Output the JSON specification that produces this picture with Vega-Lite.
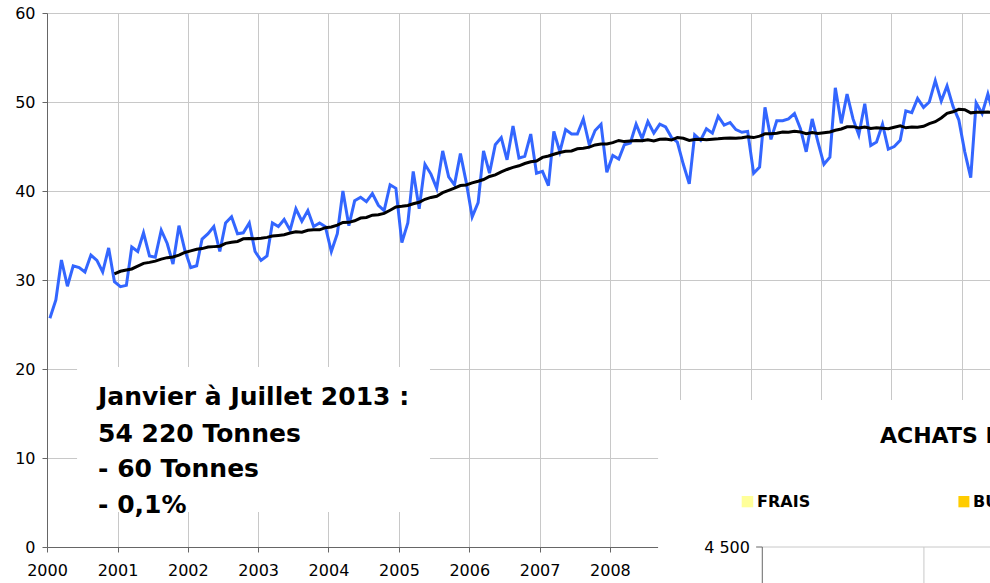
{
  "$schema": "https://vega.github.io/schema/vega-lite/v6.json",
  "width": 943,
  "height": 534,
  "autosize": {"type": "none"},
  "padding": {"left": 47, "top": 13, "right": 0, "bottom": 36},
  "background": "white",
  "config": {"view": {"stroke": null}, "font": "DejaVu Sans"},
  "datasets": {
    "series": [
      {"d":"2000-01-16","v":25.7},{"d":"2000-02-16","v":27.75},{"d":"2000-03-16","v":32.25},{"d":"2000-04-16","v":29.3},{"d":"2000-05-16","v":31.6},{"d":"2000-06-16","v":31.4},{"d":"2000-07-16","v":30.9},{"d":"2000-08-16","v":32.8},{"d":"2000-09-16","v":32.2},{"d":"2000-10-16","v":30.9},{"d":"2000-11-16","v":33.6},{"d":"2000-12-16","v":29.8,"ma":30.68},
      {"d":"2001-01-16","v":29.25,"ma":30.98},{"d":"2001-02-16","v":29.4,"ma":31.12},{"d":"2001-03-16","v":33.7,"ma":31.24},{"d":"2001-04-16","v":33.2,"ma":31.56},{"d":"2001-05-16","v":35.3,"ma":31.87},{"d":"2001-06-16","v":32.7,"ma":31.98},{"d":"2001-07-16","v":32.55,"ma":32.12},{"d":"2001-08-16","v":35.6,"ma":32.35},{"d":"2001-09-16","v":34.1,"ma":32.51},{"d":"2001-10-16","v":31.8,"ma":32.58},{"d":"2001-11-16","v":36.1,"ma":32.79},{"d":"2001-12-16","v":33.4,"ma":33.09},
      {"d":"2002-01-16","v":31.4,"ma":33.27},{"d":"2002-02-16","v":31.6,"ma":33.45},{"d":"2002-03-16","v":34.6,"ma":33.53},{"d":"2002-04-16","v":35.2,"ma":33.7},{"d":"2002-05-16","v":36.0,"ma":33.75},{"d":"2002-06-16","v":33.2,"ma":33.8},{"d":"2002-07-16","v":36.4,"ma":34.12},{"d":"2002-08-16","v":37.1,"ma":34.24},{"d":"2002-09-16","v":35.2,"ma":34.33},{"d":"2002-10-16","v":35.3,"ma":34.63},{"d":"2002-11-16","v":36.4,"ma":34.65},{"d":"2002-12-16","v":33.2,"ma":34.63},
      {"d":"2003-01-16","v":32.2,"ma":34.7},{"d":"2003-02-16","v":32.7,"ma":34.79},{"d":"2003-03-16","v":36.4,"ma":34.94},{"d":"2003-04-16","v":36.0,"ma":35.01},{"d":"2003-05-16","v":36.8,"ma":35.08},{"d":"2003-06-16","v":35.6,"ma":35.28},{"d":"2003-07-16","v":38.0,"ma":35.41},{"d":"2003-08-16","v":36.6,"ma":35.37},{"d":"2003-09-16","v":37.8,"ma":35.58},{"d":"2003-10-16","v":36.0,"ma":35.64},{"d":"2003-11-16","v":36.4,"ma":35.64},{"d":"2003-12-16","v":36.0,"ma":35.88},
      {"d":"2004-01-16","v":33.2,"ma":35.96},{"d":"2004-02-16","v":35.2,"ma":36.17},{"d":"2004-03-16","v":40.0,"ma":36.47},{"d":"2004-04-16","v":36.1,"ma":36.48},{"d":"2004-05-16","v":38.9,"ma":36.65},{"d":"2004-06-16","v":39.3,"ma":36.96},{"d":"2004-07-16","v":38.8,"ma":37.03},{"d":"2004-08-16","v":39.7,"ma":37.28},{"d":"2004-09-16","v":38.4,"ma":37.33},{"d":"2004-10-16","v":37.8,"ma":37.48},{"d":"2004-11-16","v":40.7,"ma":37.84},{"d":"2004-12-16","v":40.3,"ma":38.2},
      {"d":"2005-01-16","v":34.2,"ma":38.28},{"d":"2005-02-16","v":36.4,"ma":38.38},{"d":"2005-03-16","v":42.2,"ma":38.57},{"d":"2005-04-16","v":38.0,"ma":38.73},{"d":"2005-05-16","v":43.0,"ma":39.07},{"d":"2005-06-16","v":41.9,"ma":39.28},{"d":"2005-07-16","v":40.3,"ma":39.41},{"d":"2005-08-16","v":44.5,"ma":39.81},{"d":"2005-09-16","v":41.6,"ma":40.08},{"d":"2005-10-16","v":40.7,"ma":40.32},{"d":"2005-11-16","v":44.2,"ma":40.61},{"d":"2005-12-16","v":41.0,"ma":40.67},
      {"d":"2006-01-16","v":37.1,"ma":40.91},{"d":"2006-02-16","v":38.7,"ma":41.1},{"d":"2006-03-16","v":44.5,"ma":41.29},{"d":"2006-04-16","v":42.0,"ma":41.63},{"d":"2006-05-16","v":45.2,"ma":41.81},{"d":"2006-06-16","v":46.0,"ma":42.15},{"d":"2006-07-16","v":43.5,"ma":42.42},{"d":"2006-08-16","v":47.3,"ma":42.65},{"d":"2006-09-16","v":43.7,"ma":42.83},{"d":"2006-10-16","v":43.9,"ma":43.09},{"d":"2006-11-16","v":46.4,"ma":43.28},{"d":"2006-12-16","v":42.0,"ma":43.36},
      {"d":"2007-01-16","v":42.2,"ma":43.78},{"d":"2007-02-16","v":40.6,"ma":43.94},{"d":"2007-03-16","v":46.7,"ma":44.13},{"d":"2007-04-16","v":44.4,"ma":44.33},{"d":"2007-05-16","v":46.9,"ma":44.47},{"d":"2007-06-16","v":46.4,"ma":44.5},{"d":"2007-07-16","v":46.4,"ma":44.74},{"d":"2007-08-16","v":48.1,"ma":44.81},{"d":"2007-09-16","v":45.2,"ma":44.93},{"d":"2007-10-16","v":46.8,"ma":45.18},{"d":"2007-11-16","v":47.5,"ma":45.27},{"d":"2007-12-16","v":42.1,"ma":45.28},
      {"d":"2008-01-16","v":44.0,"ma":45.43},{"d":"2008-02-16","v":43.6,"ma":45.68},{"d":"2008-03-16","v":45.2,"ma":45.55},{"d":"2008-04-16","v":45.4,"ma":45.63},{"d":"2008-05-16","v":47.5,"ma":45.68},{"d":"2008-06-16","v":45.9,"ma":45.64},{"d":"2008-07-16","v":47.8,"ma":45.76},{"d":"2008-08-16","v":46.5,"ma":45.63},{"d":"2008-09-16","v":47.5,"ma":45.82},{"d":"2008-10-16","v":47.2,"ma":45.85},{"d":"2008-11-16","v":46.0,"ma":45.73},{"d":"2008-12-16","v":45.5,"ma":46.01},
      {"d":"2009-01-16","v":43.0,"ma":45.93},{"d":"2009-02-16","v":40.8,"ma":45.69},{"d":"2009-03-16","v":46.3,"ma":45.78},{"d":"2009-04-16","v":45.7,"ma":45.81},{"d":"2009-05-16","v":47.0,"ma":45.77},{"d":"2009-06-16","v":46.5,"ma":45.82},{"d":"2009-07-16","v":48.4,"ma":45.87},{"d":"2009-08-16","v":47.4,"ma":45.94},{"d":"2009-09-16","v":47.7,"ma":45.96},{"d":"2009-10-16","v":46.9,"ma":45.93},{"d":"2009-11-16","v":46.6,"ma":45.98},{"d":"2009-12-16","v":46.7,"ma":46.08},
      {"d":"2010-01-16","v":42.0,"ma":46.0},{"d":"2010-02-16","v":42.7,"ma":46.16},{"d":"2010-03-16","v":49.4,"ma":46.42},{"d":"2010-04-16","v":45.8,"ma":46.43},{"d":"2010-05-16","v":47.9,"ma":46.5},{"d":"2010-06-16","v":47.9,"ma":46.62},{"d":"2010-07-16","v":48.1,"ma":46.59},{"d":"2010-08-16","v":48.7,"ma":46.7},{"d":"2010-09-16","v":47.0,"ma":46.64},{"d":"2010-10-16","v":44.4,"ma":46.43},{"d":"2010-11-16","v":48.1,"ma":46.56},{"d":"2010-12-16","v":45.5,"ma":46.46},
      {"d":"2011-01-16","v":43.0,"ma":46.54},{"d":"2011-02-16","v":43.8,"ma":46.63},{"d":"2011-03-16","v":51.6,"ma":46.82},{"d":"2011-04-16","v":47.6,"ma":46.97},{"d":"2011-05-16","v":50.9,"ma":47.22},{"d":"2011-06-16","v":48.1,"ma":47.23},{"d":"2011-07-16","v":46.3,"ma":47.08},{"d":"2011-08-16","v":49.8,"ma":47.18},{"d":"2011-09-16","v":45.1,"ma":47.02},{"d":"2011-10-16","v":45.5,"ma":47.11},{"d":"2011-11-16","v":47.5,"ma":47.06},{"d":"2011-12-16","v":44.7,"ma":46.99},
      {"d":"2012-01-16","v":45.0,"ma":47.16},{"d":"2012-02-16","v":45.7,"ma":47.32},{"d":"2012-03-16","v":49.0,"ma":47.1},{"d":"2012-04-16","v":48.8,"ma":47.2},{"d":"2012-05-16","v":50.4,"ma":47.16},{"d":"2012-06-16","v":49.4,"ma":47.27},{"d":"2012-07-16","v":50.0,"ma":47.58},{"d":"2012-08-16","v":52.4,"ma":47.79},{"d":"2012-09-16","v":50.1,"ma":48.21},{"d":"2012-10-16","v":51.8,"ma":48.73},{"d":"2012-11-16","v":49.5,"ma":48.9},{"d":"2012-12-16","v":48.0,"ma":49.18},
      {"d":"2013-01-16","v":44.4,"ma":49.13},{"d":"2013-02-16","v":41.5,"ma":48.78},{"d":"2013-03-16","v":49.9,"ma":48.85},{"d":"2013-04-16","v":48.7,"ma":48.84},{"d":"2013-05-16","v":50.9,"ma":48.88},{"d":"2013-06-16","v":48.5,"ma":48.81}
    ],
    "boxes": [
      {"d":"2000-06-05","d2":"2005-06-11","y":20.22,"y2":3.93},
      {"d":"2008-09-07","d2":"2014-06-01","y":16.52,"y2":-10}
    ],
    "note": [
      {"d":"2000-09-22","y":15.96,"t":"Janvier à Juillet 2013 :"},
      {"d":"2000-09-22","y":11.85,"t":"54 220 Tonnes"},
      {"d":"2000-09-22","y":7.83,"t":"- 60 Tonnes"},
      {"d":"2000-09-22","y":3.82,"t":"- 0,1%"}
    ],
    "title2": [{"d":"2011-11-03","y":11.65,"t":"ACHATS D"}],
    "legend2": [
      {"d":"2009-11-15","d2":"2010-01-14","y":5.73,"y2":4.46,"k":"FRAIS","td":"2010-02-03"},
      {"d":"2012-12-14","d2":"2013-02-09","y":5.73,"y2":4.46,"k":"BU","td":"2013-02-28"}
    ],
    "axis2label": [{"d":"2009-12-28","y":-0.71,"t":"4 500"}],
    "axis2h": [{"d":"2010-01-29","d2":"2010-03-02","y":0}],
    "grid2h": [{"d":"2010-03-02","d2":"2014-06-01","y":0}],
    "axis2v": [{"d":"2010-03-02","y":0,"y2":-5}],
    "grid2v": [{"d":"2012-06-18","y":0,"y2":-5}]
  },
  "layer": [
    {
      "data": {"name": "series"},
      "mark": {"type": "line", "color": "#3366ff", "strokeWidth": 3, "clip": true},
      "encoding": {
        "x": {
          "field": "d", "type": "temporal",
          "scale": {"type": "utc", "domain": [{"year": 2000, "month": 1, "date": 1, "utc": true}, {"year": 2013, "month": 5, "date": 27, "utc": true}]},
          "axis": {
            "title": null, "format": "%Y", "tickCount": {"interval": "year", "step": 1},
            "grid": true, "gridColor": "#c8c8c8", "gridWidth": 1,
            "domainColor": "#666666", "tickColor": "#666666", "tickSize": 5,
            "labelFontSize": 16, "labelColor": "#000000", "labelFont": "DejaVu Sans",
            "labelPadding": 10, "labelFlush": false, "labelOverlap": false
          }
        },
        "y": {
          "field": "v", "type": "quantitative",
          "scale": {"domain": [0, 60], "nice": false, "zero": true},
          "axis": {
            "title": null, "values": [0, 10, 20, 30, 40, 50, 60],
            "grid": true, "gridColor": "#c8c8c8", "gridWidth": 1,
            "domainColor": "#666666", "tickColor": "#666666", "tickSize": 5,
            "labelFontSize": 16, "labelColor": "#000000", "labelFont": "DejaVu Sans",
            "labelPadding": 7
          }
        }
      }
    },
    {
      "data": {"name": "series"},
      "mark": {"type": "line", "color": "#000000", "strokeWidth": 3, "clip": true},
      "encoding": {
        "x": {"field": "d", "type": "temporal"},
        "y": {"field": "ma", "type": "quantitative"}
      }
    },
    {
      "data": {"name": "boxes"},
      "mark": {"type": "rect", "fill": "#ffffff", "stroke": null},
      "encoding": {
        "x": {"field": "d", "type": "temporal"},
        "x2": {"field": "d2"},
        "y": {"field": "y", "type": "quantitative"},
        "y2": {"field": "y2"}
      }
    },
    {
      "data": {"name": "note"},
      "mark": {"type": "text", "font": "DejaVu Sans", "fontWeight": "bold", "fontSize": 25, "align": "left", "baseline": "alphabetic", "color": "#000000"},
      "encoding": {
        "x": {"field": "d", "type": "temporal"},
        "y": {"field": "y", "type": "quantitative"},
        "text": {"field": "t"}
      }
    },
    {
      "data": {"name": "title2"},
      "mark": {"type": "text", "font": "DejaVu Sans", "fontWeight": "bold", "fontSize": 22, "align": "left", "baseline": "alphabetic", "color": "#000000"},
      "encoding": {
        "x": {"field": "d", "type": "temporal"},
        "y": {"field": "y", "type": "quantitative"},
        "text": {"field": "t"}
      }
    },
    {
      "data": {"name": "legend2"},
      "mark": {"type": "rect", "stroke": null},
      "encoding": {
        "x": {"field": "d", "type": "temporal"},
        "x2": {"field": "d2"},
        "y": {"field": "y", "type": "quantitative"},
        "y2": {"field": "y2"},
        "color": {"field": "k", "type": "nominal", "scale": {"domain": ["FRAIS", "BU"], "range": ["#ffff99", "#ffcc00"]}, "legend": null}
      }
    },
    {
      "data": {"name": "legend2"},
      "mark": {"type": "text", "font": "DejaVu Sans", "fontWeight": "bold", "fontSize": 16, "align": "left", "baseline": "alphabetic", "color": "#000000"},
      "encoding": {
        "x": {"field": "td", "type": "temporal"},
        "y": {"field": "y2", "type": "quantitative"},
        "text": {"field": "k"}
      }
    },
    {
      "data": {"name": "axis2label"},
      "mark": {"type": "text", "font": "DejaVu Sans", "fontSize": 16, "align": "right", "baseline": "alphabetic", "color": "#000000"},
      "encoding": {
        "x": {"field": "d", "type": "temporal"},
        "y": {"field": "y", "type": "quantitative"},
        "text": {"field": "t"}
      }
    },
    {
      "data": {"name": "grid2h"},
      "mark": {"type": "rule", "color": "#c8c8c8", "strokeWidth": 1},
      "encoding": {
        "x": {"field": "d", "type": "temporal"},
        "x2": {"field": "d2"},
        "y": {"field": "y", "type": "quantitative"}
      }
    },
    {
      "data": {"name": "grid2v"},
      "mark": {"type": "rule", "color": "#c8c8c8", "strokeWidth": 1},
      "encoding": {
        "x": {"field": "d", "type": "temporal"},
        "y": {"field": "y", "type": "quantitative"},
        "y2": {"field": "y2"}
      }
    },
    {
      "data": {"name": "axis2h"},
      "mark": {"type": "rule", "color": "#666666", "strokeWidth": 1},
      "encoding": {
        "x": {"field": "d", "type": "temporal"},
        "x2": {"field": "d2"},
        "y": {"field": "y", "type": "quantitative"}
      }
    },
    {
      "data": {"name": "axis2v"},
      "mark": {"type": "rule", "color": "#666666", "strokeWidth": 1},
      "encoding": {
        "x": {"field": "d", "type": "temporal"},
        "y": {"field": "y", "type": "quantitative"},
        "y2": {"field": "y2"}
      }
    }
  ]
}
